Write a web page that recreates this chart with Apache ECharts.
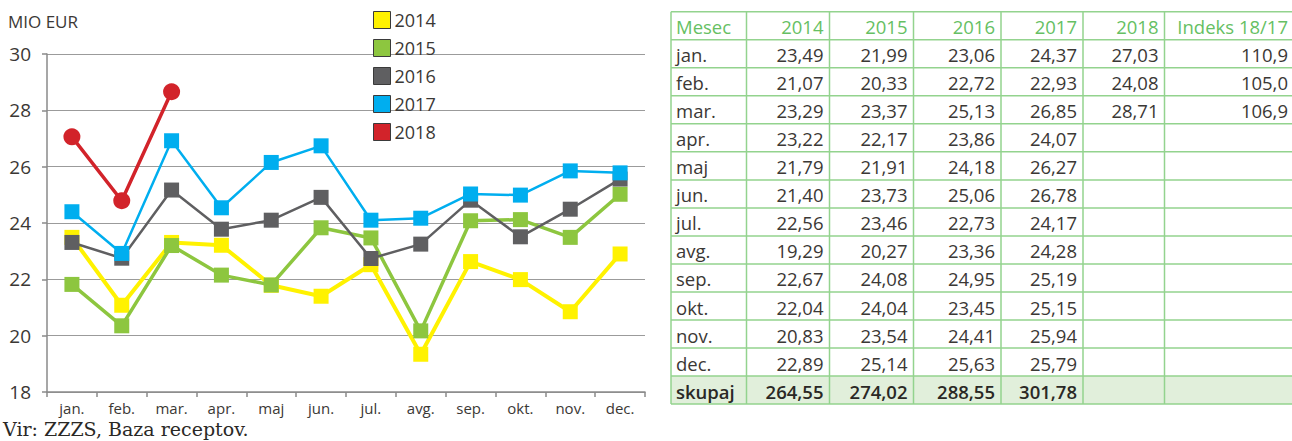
<!DOCTYPE html>
<html>
<head>
<meta charset="utf-8">
<script src="https://cdn.jsdelivr.net/npm/echarts@6/dist/echarts.min.js"></script>
<style>
  html, body { margin: 0; padding: 0; background: #fff; }
  #chart { width: 1292px; height: 441px; }
</style>
</head>
<body>
<div id="chart"></div>
<script>
const months = ["jan.", "feb.", "mar.", "apr.", "maj", "jun.", "jul.", "avg.", "sep.", "okt.", "nov.", "dec."];
const years = ["2014", "2015", "2016", "2017", "2018"];

// vrednosti, kot so narisane v grafu (MIO EUR) - odčitano s slike
const line2014 = [23.49, 21.08, 23.31, 23.21, 21.79, 21.40, 22.52, 19.34, 22.63, 21.99, 20.85, 22.90];
const line2015 = [21.82, 20.35, 23.20, 22.15, 21.80, 23.83, 23.47, 20.17, 24.08, 24.12, 23.49, 25.02];
const line2016 = [23.31, 22.75, 25.17, 23.78, 24.10, 24.91, 22.74, 23.25, 24.81, 23.51, 24.49, 25.56];
const line2017 = [24.40, 22.92, 26.92, 24.54, 26.15, 26.74, 24.10, 24.17, 25.03, 24.99, 25.85, 25.78];
const line2018 = [27.06, 24.79, 28.66];

// vrednosti iz tabele
const tab2014 = [23.49, 21.07, 23.29, 23.22, 21.79, 21.40, 22.56, 19.29, 22.67, 22.04, 20.83, 22.89];
const tab2015 = [21.99, 20.33, 23.37, 22.17, 21.91, 23.73, 23.46, 20.27, 24.08, 24.04, 23.54, 25.14];
const tab2016 = [23.06, 22.72, 25.13, 23.86, 24.18, 25.06, 22.73, 23.36, 24.95, 23.45, 24.41, 25.63];
const tab2017 = [24.37, 22.93, 26.85, 24.07, 26.27, 26.78, 24.17, 24.28, 25.19, 25.15, 25.94, 25.79];
const tab2018 = [27.03, 24.08, 28.71];
const totals = [264.55, 274.02, 288.55, 301.78];
const index1817 = [110.9, 105.0, 106.9];
const tableHeader = ["Mesec", "2014", "2015", "2016", "2017", "2018", "Indeks 18/17"];
const yTicks = { min: 18, max: 30, interval: 2 };

const FONT = "'Open Sans', 'Noto Sans', sans-serif";
const TXT = "#3b3835";
const colors = ["#fff200", "#8dc63f", "#5f5f61", "#00aeef", "#d2232a"];
const lineWidths = [4, 3.5, 2.5, 2.5, 3.5];
const lines = [line2014, line2015, line2016, line2017, line2018];

const fmt = (v, d) => v.toFixed(d).replace(".", ",");

// tabela desno (graphic elementi)
const colX = [671, 746.5, 829.5, 913.5, 1001, 1083, 1164.5, 1294];
const rowTop = 11.7;
const rowH = 28.03;
const nRows = months.length + 2;
const lineColor = "#93d38e";

const tableEls = [];
tableEls.push({
  type: "rect",
  shape: { x: colX[0], y: rowTop + (nRows - 1) * rowH, width: colX[colX.length - 1] - colX[0], height: rowH },
  style: { fill: "#e1efdb" },
  silent: true,
});
for (let r = 0; r <= nRows; r++) {
  const y = rowTop + r * rowH;
  tableEls.push({
    type: "line",
    shape: { x1: colX[0], y1: y, x2: colX[colX.length - 1], y2: y },
    style: { stroke: lineColor, lineWidth: 1.5 },
    silent: true,
  });
}
colX.forEach((x) => {
  tableEls.push({
    type: "line",
    shape: { x1: x, y1: rowTop, x2: x, y2: rowTop + nRows * rowH },
    style: { stroke: lineColor, lineWidth: 1.5 },
    silent: true,
  });
});

const cellText = (text, r, c, opts) => {
  const left = c === 0;
  tableEls.push({
    type: "text",
    x: left ? colX[0] + 5 : colX[c + 1] - 6,
    y: rowTop + r * rowH + rowH / 2 + 1,
    style: Object.assign(
      {
        text: text,
        font: "18.5px " + FONT,
        fill: TXT,
        align: left ? "left" : "right",
        verticalAlign: "middle",
      },
      opts || {}
    ),
    silent: true,
  });
};

tableHeader.forEach((h, c) => cellText(h, 0, c, { fill: "#66bf63" }));
months.forEach((m, i) => {
  const r = i + 1;
  cellText(m, r, 0);
  [tab2014, tab2015, tab2016, tab2017, tab2018].forEach((arr, k) => {
    if (arr[i] !== undefined) cellText(fmt(arr[i], 2), r, k + 1);
  });
  if (index1817[i] !== undefined) cellText(fmt(index1817[i], 1), r, 6);
});
const boldFont = "600 18.5px " + FONT;
cellText("skupaj", nRows - 1, 0, { font: boldFont, fill: "#2a2825" });
totals.forEach((t, k) => cellText(fmt(t, 2), nRows - 1, k + 1, { font: boldFont, fill: "#2a2825" }));

const myChart = echarts.init(document.getElementById("chart"), null, { renderer: "svg" });

const option = {
  animation: false,
  backgroundColor: "#fff",
  title: {
    text: "MIO EUR",
    left: 3,
    top: 8,
    textStyle: { fontFamily: FONT, fontSize: 17, fontWeight: "normal", color: TXT },
  },
  legend: {
    orient: "vertical",
    left: 373,
    top: 11,
    padding: 0,
    itemWidth: 17,
    itemHeight: 17,
    itemGap: 10,
    icon: "rect",
    selectedMode: false,
    data: years,
    itemStyle: { borderColor: "#3a3a3a", borderWidth: 1 },
    textStyle: { fontFamily: FONT, fontSize: 18, color: TXT, padding: [0, 0, 0, -1] },
  },
  grid: { left: 47, right: 647, top: 54, bottom: 49 },
  xAxis: {
    type: "category",
    data: months,
    boundaryGap: true,
    axisLine: { lineStyle: { color: "#8a8a8a", width: 1.5 } },
    axisTick: { show: true, length: 5, lineStyle: { color: "#8a8a8a", width: 1.5 } },
    axisLabel: { fontFamily: FONT, fontSize: 15, color: TXT, margin: 8 },
  },
  yAxis: {
    type: "value",
    min: yTicks.min,
    max: yTicks.max,
    interval: yTicks.interval,
    axisLine: { show: true, lineStyle: { color: "#8a8a8a", width: 1.5 } },
    axisTick: { show: true, length: 5, lineStyle: { color: "#8a8a8a", width: 1.5 } },
    axisLabel: { fontFamily: FONT, fontSize: 19, color: TXT, margin: 16 },
    splitLine: { lineStyle: { color: "#9b9b9b", width: 1.2 } },
  },
  series: years.map((y, k) => ({
    name: y,
    type: "line",
    data: lines[k],
    symbol: k === 4 ? "circle" : "rect",
    symbolSize: k === 4 ? 17 : 15,
    lineStyle: { color: colors[k], width: lineWidths[k] },
    itemStyle: { color: colors[k], borderWidth: 0, opacity: 1 },
    emphasis: { disabled: true },
    z: 2 + k,
  })),
  graphic: [
    {
      type: "text",
      left: 3,
      top: 419,
      style: {
        text: "Vir: ZZZS, Baza receptov.",
        font: "19px 'DejaVu Serif', 'Liberation Serif', serif",
        fill: "#2a2825",
      },
      silent: true,
    },
    ...tableEls,
  ],
};

myChart.setOption(option);
</script>
</body>
</html>
